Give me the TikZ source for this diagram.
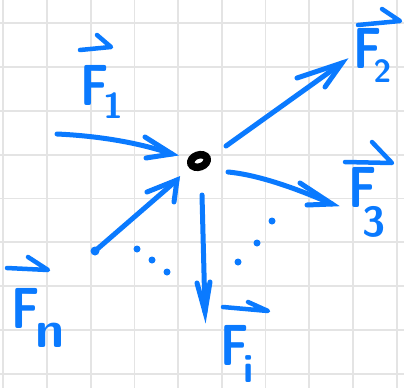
\RequirePackage{fix-cm}
\documentclass[tikz,border=0pt]{standalone}
\usepackage{fontspec}
\usetikzlibrary{shapes.geometric}
\definecolor{penblue}{RGB}{10,122,255}
\definecolor{gridgray}{RGB}{228,228,228}
\tikzset{
  gridline/.style={draw=gridgray, line width=1.8pt},
  shaft/.style={draw=penblue, line width=5pt, line cap=round, line join=round},
  barb/.style={draw=penblue, line width=5pt, line cap=round},
  accent/.style={draw=penblue, line width=4.5pt, line cap=round, line join=round},
  dotmark/.style={fill=penblue, circle, inner sep=0pt, minimum size=7pt},
  lab/.style={text=penblue, inner sep=0pt, anchor=base west, font=\fontsize{58}{58}\selectfont\sffamily\bfseries},
}
% #1 kern, #2 lowering, #3 size, #4 subscript
\newcommand{\flab}[4]{\scalebox{0.8}[1]{F}\kern#1\raisebox{-#2}{\fontsize{#3}{#3}\selectfont #4}}
\begin{document}
\begin{tikzpicture}[x=1pt,y=-1pt]
\useasboundingbox (0,0) rectangle (404,388);
\fill[white] (0,0) rectangle (404,388);
% grid
\foreach \k in {0,...,9} {\draw[gridline] (3.3+43.7*\k,0) -- (3.3+43.7*\k,388);}
\foreach \k in {0,...,8} {\draw[gridline] (0,23.3+43.8*\k) -- (404,23.3+43.8*\k);}
% central point
\node[ellipse, draw=black, line width=7.5pt, minimum width=17pt, minimum height=12pt, inner sep=0pt, rotate=20] (o) at (199,161) {};
% coordinates
\coordinate (a1) at (57,134);  \coordinate (t1) at (172,154);
\coordinate (b1a) at (145,137); \coordinate (b1b) at (146,158);
\coordinate (a2) at (226,146); \coordinate (t2) at (342,63);
\coordinate (b2a) at (297,78);  \coordinate (b2b) at (325,87);
\coordinate (a3) at (228,172); \coordinate (t3) at (332,204);
\coordinate (b3a) at (300,183); \coordinate (b3b) at (307,205);
\coordinate (an) at (95,251);  \coordinate (tn) at (177,180);
\coordinate (bna) at (147,192); \coordinate (bnb) at (174,202);
\coordinate (ai) at (202,195); \coordinate (ti) at (205,312);
\coordinate (bia) at (197,283); \coordinate (bib) at (210,282);
% arrows
\draw[shaft] (a1) .. controls (100,136) and (140,143) .. (t1);
\draw[barb] (b1a) -- (t1) -- (b1b);
\draw[shaft] (a2) -- (t2);
\draw[barb] (b2a) -- (t2) -- (b2b);
\draw[shaft] (a3) .. controls (260,175) and (300,190) .. (t3);
\draw[barb] (b3a) -- (t3) -- (b3b);
\draw[shaft] (an) -- (tn);
\fill[penblue] (an) circle (4.5pt);
\draw[barb] (bna) -- (tn) -- (bnb);
\draw[shaft] (ai) -- (ti);
\draw[barb] (bia) -- (ti) -- (bib);
% dots
\node[dotmark] (d1) at (137,249) {};
\node[dotmark] (d2) at (152,260) {};
\node[dotmark] (d3) at (167,272) {};
\node[dotmark] (d4) at (272,221) {};
\node[dotmark] (d5) at (257,243) {};
\node[dotmark] (d6) at (238,262) {};
% labels
\node[lab] (l1) at (80,105) {\flab{-5pt}{13pt}{36}{1}};
\node[lab] (l2) at (353,68) {\flab{-8pt}{14pt}{32}{2}};
\node[lab] (l3) at (348,207) {\flab{-14pt}{29pt}{42}{3}};
\node[lab] (ln) at (11,328) {\flab{-4pt}{19pt}{52}{n}};
\node[lab] (li) at (220,365) {\flab{-5pt}{17pt}{40}{i}};
% vector accents
\draw[accent] (80,50) -- (111,47) -- (97,35);
\draw[accent] (358,25) -- (400,21) -- (382,9);
\draw[accent] (345,162) -- (392,163) -- (372,142);
\draw[accent] (7,268) -- (48,270) -- (28,257);
\draw[accent] (223,307) -- (268,311) -- (248,302);
\end{tikzpicture}
\end{document}
